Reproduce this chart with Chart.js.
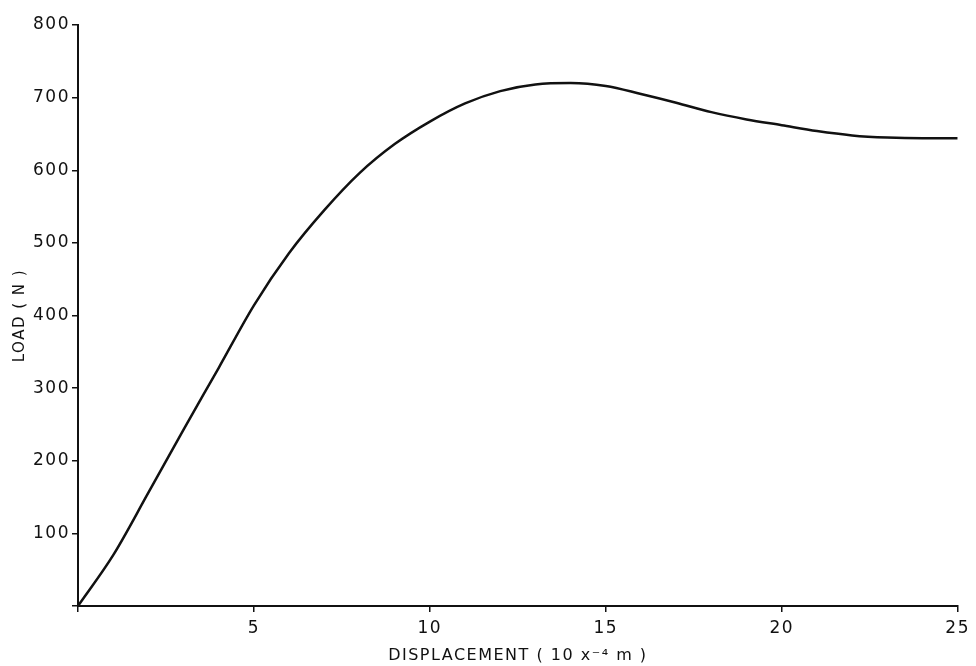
<!DOCTYPE html>
<html lang="en">

<head>
  <meta charset="UTF-8">
  <title>Load vs Displacement</title>
  <script src="https://cdn.jsdelivr.net/npm/chart.js"></script>
  <style>
    body {
      margin: 0;
      background: #ffffff;
    }

    #loadChart {
      display: block;
    }
  </style>
</head>

<body>
  <canvas id="loadChart" width="976" height="666"></canvas>

  <script>
    // Valores (deslocamento em 10^-4 m, carga em N)
    const displacement = [0, 1, 2, 3, 4, 5, 6, 7, 8, 9, 10, 11, 12, 13, 14, 15, 16, 17, 18, 19, 20, 21, 22, 23, 24, 25];
    const load = [0, 70, 156, 243, 328, 414, 486, 545, 596, 636, 667, 692, 709, 718, 720, 716, 705, 693, 680, 670, 662, 654, 648, 645, 644, 644];

    const xTicks = [5, 10, 15, 20, 25];
    const yTicks = [100, 200, 300, 400, 500, 600, 700, 800];

    const points = displacement.map((d, i) => ({ x: d, y: load[i] }));

    // espaçamento entre letras, como no original
    const spacingPlugin = {
      id: 'spacing',
      beforeLayout(chart) { chart.ctx.letterSpacing = '1.5px'; },
      beforeDraw(chart) { chart.ctx.letterSpacing = '1.5px'; }
    };

    const ctx = document.getElementById('loadChart').getContext('2d');
    const loadChart = new Chart(ctx, {
      type: 'line',
      data: {
        datasets: [{
          data: points,
          borderColor: '#111111',
          borderWidth: 2.5,
          pointRadius: 0,
          fill: false,
          cubicInterpolationMode: 'monotone'
        }]
      },
      plugins: [spacingPlugin],
      options: {
        responsive: false,
        animation: false,
        layout: {
          padding: { left: 0, right: 13, top: 25, bottom: 0 }
        },
        plugins: {
          legend: { display: false },
          tooltip: { enabled: false }
        },
        scales: {
          x: {
            type: 'linear',
            min: 0,
            max: 25,
            afterFit: (scale) => { scale.height = 60; },
            afterBuildTicks: (scale) => {
              scale.ticks = [0].concat(xTicks).map(v => ({ value: v }));
            },
            ticks: {
              color: '#111111',
              padding: 6,
              maxRotation: 0,
              font: { family: 'DejaVu Sans', size: 17 },
              callback: (v) => (v === 0 ? '' : v)
            },
            grid: {
              drawOnChartArea: false,
              drawTicks: true,
              tickLength: 6,
              color: '#111111',
              lineWidth: 1.5
            },
            border: { display: true, color: '#111111', width: 2 },
            title: {
              display: true,
              text: 'DISPLACEMENT ( 10 x⁻⁴ m )',
              color: '#111111',
              font: { family: 'DejaVu Sans', size: 16 },
              padding: { top: 0, bottom: 1 }
            }
          },
          y: {
            min: 0,
            max: 800,
            afterFit: (scale) => { scale.width = 78; },
            afterBuildTicks: (scale) => {
              scale.ticks = [0].concat(yTicks).map(v => ({ value: v }));
            },
            ticks: {
              color: '#111111',
              padding: 2,
              font: { family: 'DejaVu Sans', size: 17 },
              callback: (v) => (v === 0 ? '' : v)
            },
            grid: {
              drawOnChartArea: false,
              drawTicks: true,
              tickLength: 6,
              color: '#111111',
              lineWidth: 1.5
            },
            border: { display: true, color: '#111111', width: 2 },
            title: {
              display: true,
              text: 'LOAD ( N )',
              color: '#111111',
              font: { family: 'DejaVu Sans', size: 15 },
              padding: { top: 11, bottom: 0 }
            }
          }
        }
      }
    });
  </script>
</body>

</html>
